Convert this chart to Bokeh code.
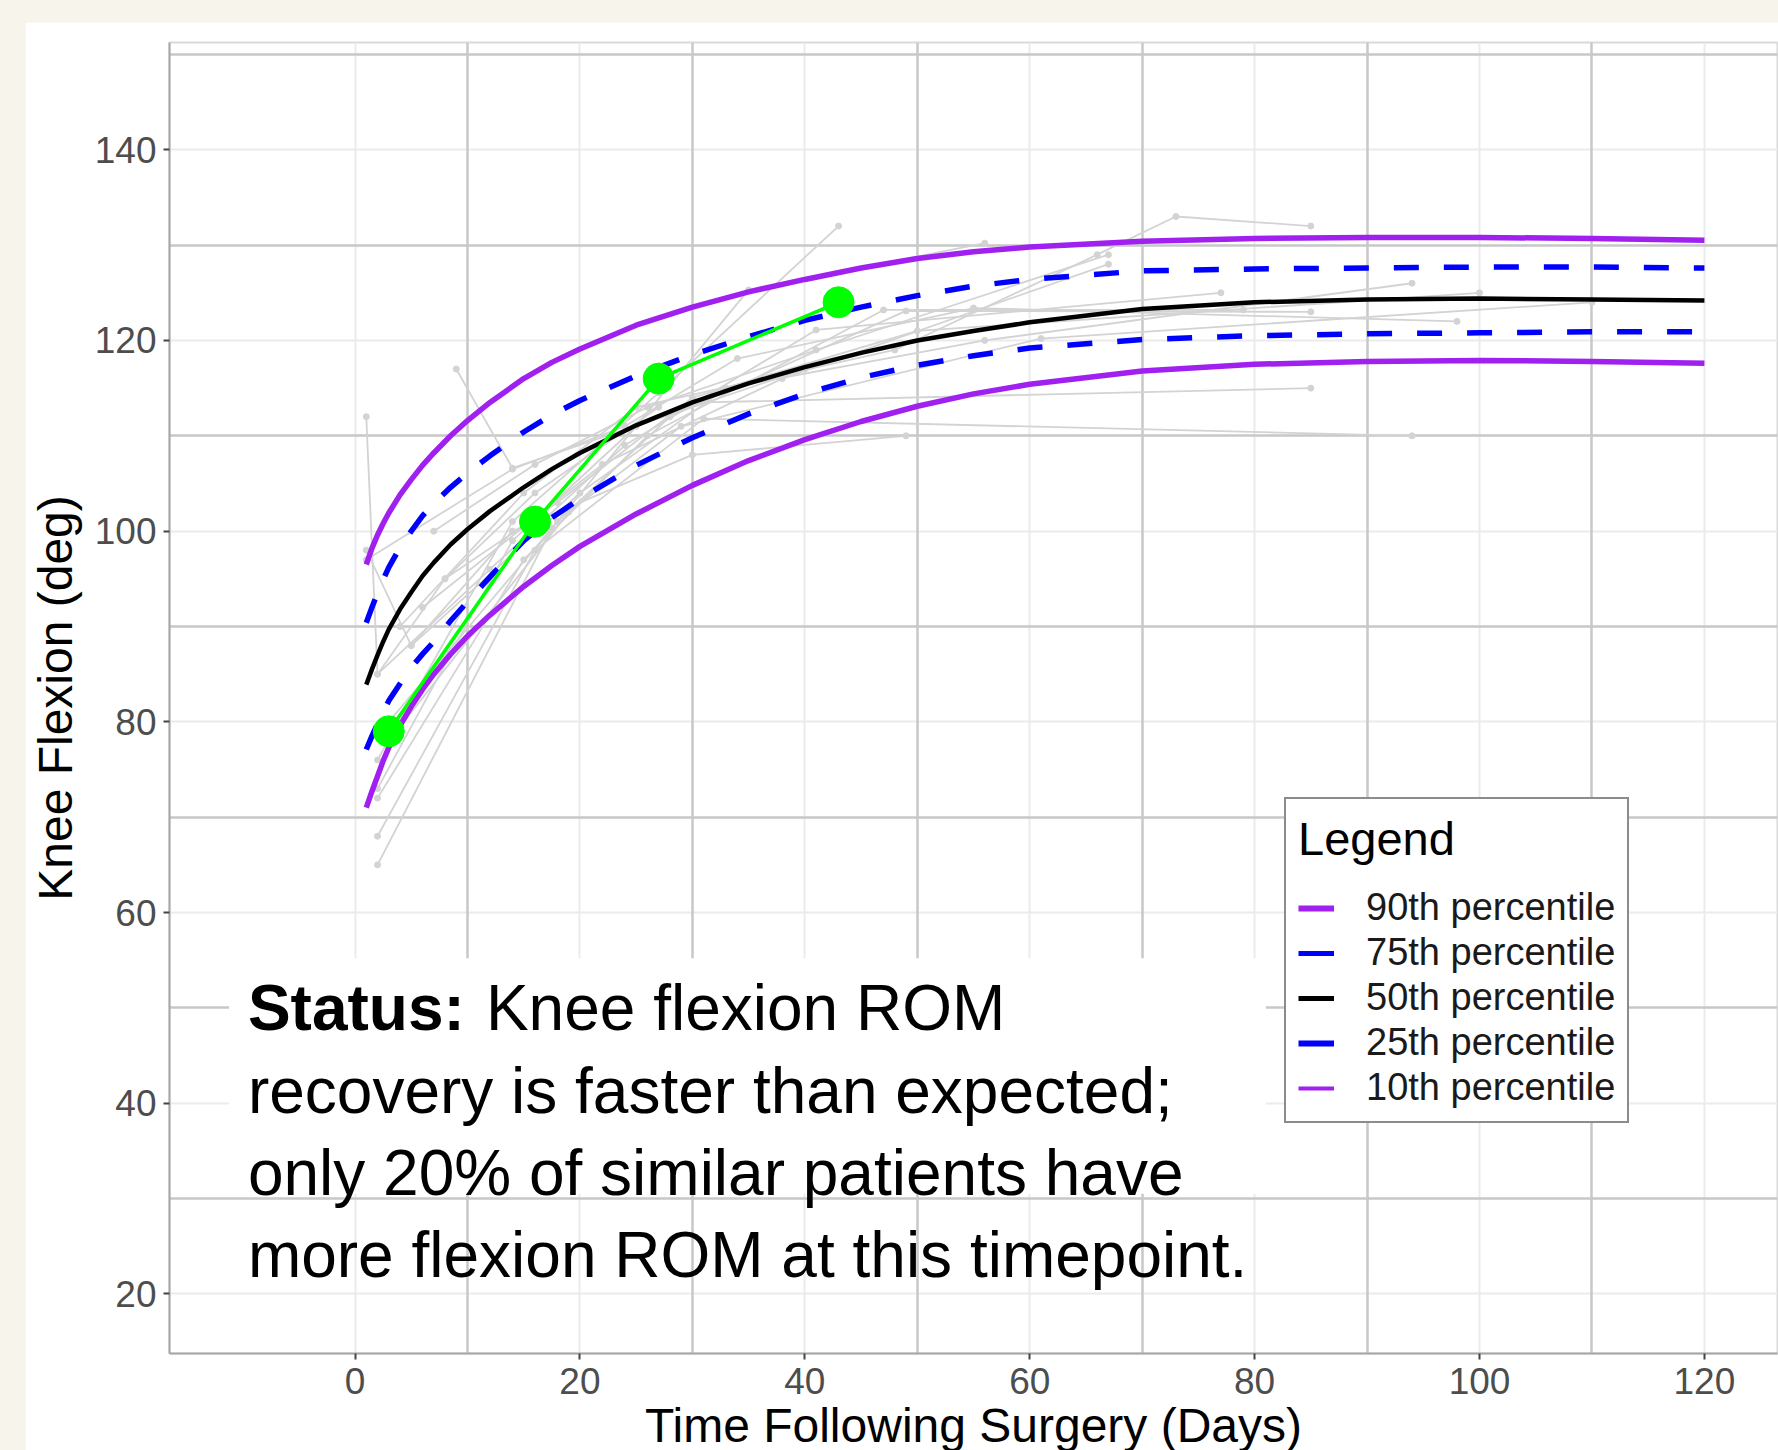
from bokeh.plotting import figure
from bokeh.models import (Range1d, FixedTicker, Grid, Legend, LegendItem,
                          BoxAnnotation, Label, GlobalInlineStyleSheet)
from bokeh.embed import file_html
from bokeh.resources import INLINE

# ---------------- data ----------------
days_pct = [1, 1.5, 2, 2.5, 3, 4, 5, 6, 7, 8.5, 10, 12, 15, 17.5, 20, 25, 30, 35, 40, 45,
            50, 55, 60, 70, 80, 90, 100, 110, 120]
p90 = [96.5, 98.2, 99.6, 100.8, 101.9, 103.8, 105.4, 106.9, 108.2, 110.0, 111.6, 113.5, 116.0,
       117.7, 119.1, 121.6, 123.5, 125.1, 126.4, 127.6, 128.6, 129.3, 129.8, 130.4, 130.7,
       130.8, 130.8, 130.7, 130.5]
p75 = [90.4, 92.0, 93.5, 94.9, 96.2, 98.3, 100.0, 101.6, 102.9, 104.6, 106.1, 107.9, 110.4,
       112.2, 113.7, 116.3, 118.5, 120.4, 122.1, 123.5, 124.7, 125.7, 126.4, 127.3, 127.5,
       127.6, 127.7, 127.7, 127.6]
p50 = [83.9, 85.5, 87.0, 88.4, 89.7, 91.8, 93.6, 95.3, 96.7, 98.6, 100.2, 102.1, 104.6,
       106.5, 108.2, 111.1, 113.5, 115.5, 117.2, 118.7, 120.0, 121.0, 121.9, 123.3, 124.0,
       124.3, 124.4, 124.3, 124.2]
p25 = [77.1, 78.5, 79.8, 81.0, 82.2, 84.0, 85.7, 87.1, 88.4, 90.6, 92.6, 95.2, 99.0,
       101.4, 103.4, 106.9, 109.8, 112.3, 114.4, 116.1, 117.4, 118.4, 119.2, 120.1, 120.5,
       120.7, 120.8, 120.9, 120.9]
p10 = [71.0, 72.7, 74.3, 75.9, 77.3, 79.6, 81.6, 83.4, 85.0, 87.1, 89.0, 91.2, 94.2,
       96.4, 98.4, 101.8, 104.8, 107.4, 109.6, 111.5, 113.1, 114.4, 115.4, 116.8, 117.5,
       117.8, 117.9, 117.8, 117.6]

patient_days = [
    [1, 2, 8, 16, 27],
    [1, 5, 14, 30, 49],
    [9, 14, 31, 85],
    [2, 14, 27, 43],
    [2, 17.5, 35, 56],
    [2, 16, 31, 94],
    [2, 15, 26, 47, 79],
    [1, 14, 24, 34, 55, 98],
    [3, 18, 28, 49, 85],
    [4, 15, 25, 48, 66, 73, 85],
    [2, 12, 24, 41, 77],
    [5, 20, 33, 56, 94],
    [3, 19, 29, 61, 110],
    [7, 16, 26, 41, 67],
    [2, 14, 25, 40],
    [8, 18, 30, 50, 100],
    [6, 22, 38, 67],
]
patient_deg = [
    [112, 85, 95, 104, 113],
    [98, 88, 100, 108, 110],
    [117, 106.6, 113.5, 115],
    [76, 101, 114.5, 132],
    [65, 100.3, 125.3, 130.2],
    [68, 98, 111.8, 110],
    [72, 97, 110, 123.2, 123.2],
    [97, 106.5, 111, 118.1, 123.4, 122],
    [80, 101, 112, 123.1, 123],
    [90, 104, 113, 119, 129, 133, 132],
    [85, 96, 109, 121.1, 125],
    [88, 104, 115, 120, 126],
    [78, 102, 111, 120.2, 124],
    [100, 107, 113, 119, 129],
    [73, 99, 111, 117],
    [95, 103, 114, 121, 125],
    [92, 107, 116, 128],
]

current_days = [3, 16, 27, 43]
current_deg = [79, 101, 116, 124]

x_ticks = [0, 20, 40, 60, 80, 100, 120]
x_mid = [10, 30, 50, 70, 90, 110]
y_ticks = [20, 40, 60, 80, 100, 120, 140]
y_mid = [30, 50, 70, 90, 110, 130, 150]

legend_labels = ["90th percentile", "75th percentile", "50th percentile",
                 "25th percentile", "10th percentile"]

status_lines = ["recovery is faster than expected;",
                "only 20% of similar patients have",
                "more flexion ROM at this timepoint."]

# ---------------- styling ----------------
FONT = "Liberation Sans"
PURPLE = "#a020f0"
BLUE = "#0000ff"
GREEN = "#00ff00"
GRAY = "#d3d3d3"

p = figure(frame_width=1608, frame_height=1311,
           x_range=Range1d(-16.5, 126.5), y_range=Range1d(13.75, 151.25),
           output_backend="svg", toolbar_location=None,
           min_border_left=143, min_border_right=2,
           min_border_top=20, min_border_bottom=97,
           background_fill_color="white", border_fill_color="white")
p.margin = (22, 0, 0, 25)
p.stylesheets = [GlobalInlineStyleSheet(
    css="html, body { background-color: #f7f4ec; overflow: hidden; }")]

p.outline_line_color = "#dadada"
p.outline_line_width = 2

# grids
p.xgrid.ticker = FixedTicker(ticks=x_ticks)
p.ygrid.ticker = FixedTicker(ticks=y_ticks)
for g in (p.xgrid, p.ygrid):
    g.grid_line_color = "#ebebeb"
    g.grid_line_width = 2
p.add_layout(Grid(dimension=0, ticker=FixedTicker(ticks=x_mid),
                  grid_line_color="#c8c8c8", grid_line_width=2.5))
p.add_layout(Grid(dimension=1, ticker=FixedTicker(ticks=y_mid),
                  grid_line_color="#c8c8c8", grid_line_width=2.5))

# axes
p.xaxis.ticker = FixedTicker(ticks=x_ticks)
p.yaxis.ticker = FixedTicker(ticks=y_ticks)
p.xaxis.axis_label = "Time Following Surgery (Days)"
p.yaxis.axis_label = "Knee Flexion (deg)"
for ax in (p.xaxis[0], p.yaxis[0]):
    ax.axis_line_color = "#a8a8a8"
    ax.axis_line_width = 2
    ax.major_tick_line_color = "#444444"
    ax.major_tick_line_width = 2
    ax.major_tick_out = 6
    ax.major_tick_in = 0
    ax.minor_tick_line_color = None
    ax.major_label_text_font = FONT
    ax.major_label_text_font_size = "37px"
    ax.major_label_text_color = "#4d4d4d"
    ax.axis_label_text_font = FONT
    ax.axis_label_text_font_size = "48px"
    ax.axis_label_text_font_style = "normal"
    ax.axis_label_text_color = "black"
p.xaxis.major_label_standoff = 8
p.xaxis.axis_label_standoff = 2
p.yaxis.major_label_standoff = 7
p.yaxis.axis_label_standoff = 10

# patients (gray)
p.multi_line(xs=patient_days, ys=patient_deg, line_color=GRAY, line_width=1.8)
all_x = [d for row in patient_days for d in row]
all_y = [v for row in patient_deg for v in row]
p.scatter(all_x, all_y, size=6, color=GRAY)

# percentile curves
p.line(days_pct, p90, line_color=PURPLE, line_width=5.5)
p.line(days_pct, p75, line_color=BLUE, line_width=5.5, line_dash="25 25")
p.line(days_pct, p50, line_color="black", line_width=4.5)
p.line(days_pct, p25, line_color=BLUE, line_width=5.5, line_dash="25 25")
p.line(days_pct, p10, line_color=PURPLE, line_width=5.5)

# current patient
p.line(current_days, current_deg, line_color=GREEN, line_width=3.5)
p.scatter(current_days, current_deg, size=31, color=GREEN)

# status box and text
p.add_layout(BoxAnnotation(left=-11.2, right=81.0, top=55.2, bottom=30.5,
                           fill_color="white", fill_alpha=1.0, line_color=None))
common = dict(text_font=FONT, text_font_size="64px", text_color="black",
              text_baseline="middle", text_align="left")
p.add_layout(Label(x=-9.53, y=50.0, text="Status:", text_font_style="bold", **common))
p.add_layout(Label(x=-9.53, y=50.0, x_offset=238, text="Knee flexion ROM", **common))
for txt, yy in zip(status_lines, [41.3, 32.7, 24.1]):
    p.add_layout(Label(x=-9.53, y=yy, text=txt, **common))

# legend (single-point proxies so the keys are solid strokes)
legend_styles = [(PURPLE, 6), (BLUE, 5), ("black", 5), (BLUE, 6), (PURPLE, 4)]
items = []
for lab, (col, w) in zip(legend_labels, legend_styles):
    r = p.line(x=[days_pct[0]], y=[p50[0]], line_color=col, line_width=w)
    items.append(LegendItem(label=lab, renderers=[r]))
legend = Legend(items=items, location=(1115, 230), title="Legend",
                title_text_font=FONT, title_text_font_size="47px",
                title_text_color="black", title_text_font_style="normal",
                title_standoff=20,
                label_text_font=FONT, label_text_font_size="38px",
                label_text_color="#1a1a1a", label_standoff=32,
                glyph_width=36, glyph_height=40, label_height=40,
                spacing=2, padding=12, margin=0,
                border_line_color="#1a1a1a", border_line_width=2,
                background_fill_color="white", background_fill_alpha=1.0)
p.add_layout(legend)

open("out.html", "w").write(file_html(p, INLINE))
